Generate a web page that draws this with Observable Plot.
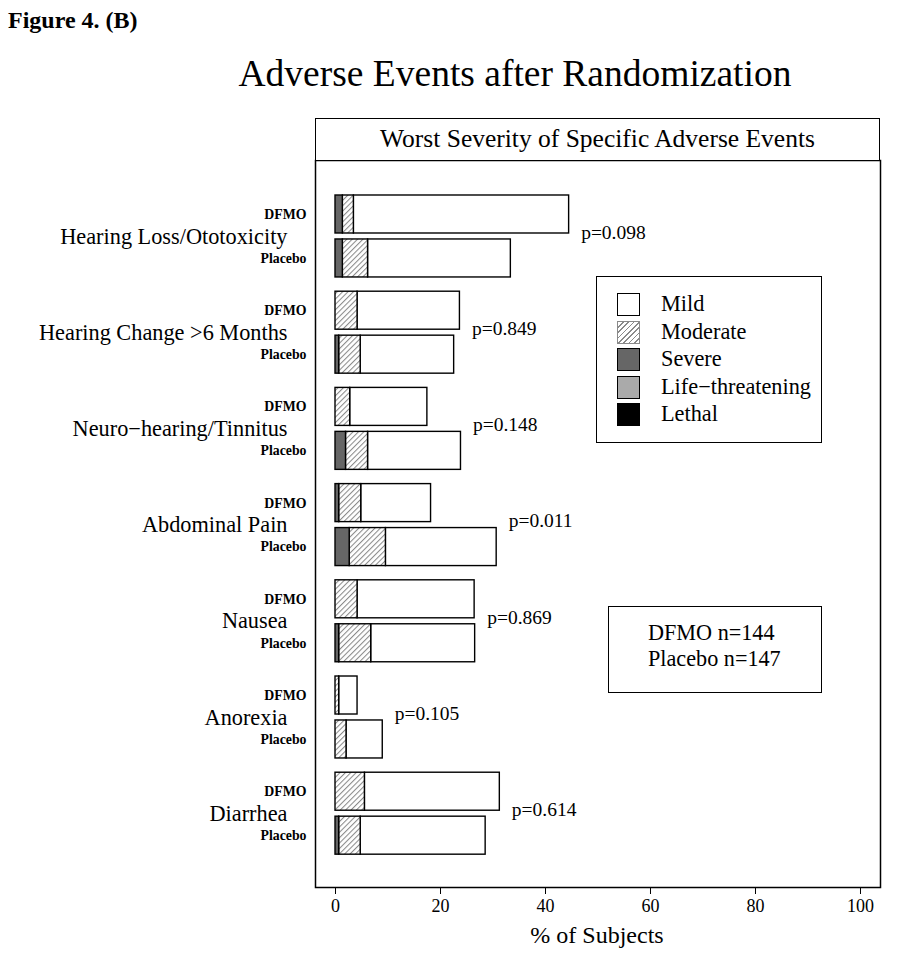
<!DOCTYPE html>
<html>
<head>
<meta charset="utf-8">
<script src="https://cdn.jsdelivr.net/npm/d3@7"></script>
<script src="https://cdn.jsdelivr.net/npm/@observablehq/plot@0.6"></script>
<style>
  body { margin:0; background:#fff; font-family:"Liberation Serif", serif; color:#000; }
  #page { position:relative; width:897px; height:956px; overflow:hidden; }
  .abs { position:absolute; }
  .sw { position:absolute; width:23px; height:23px; box-sizing:border-box; border:1.5px solid #000; }
</style>
</head>
<body>
<div id="page">
  <div class="abs" style="left:8px;top:5px;font-weight:bold;font-size:24px;line-height:30px;">Figure 4. (B)</div>
  <div class="abs" style="left:0;width:1030px;top:51px;text-align:center;font-size:37.5px;line-height:46px;">Adverse Events after Randomization</div>
  <div id="chart" class="abs" style="left:0;top:150px;"></div>
  <div class="abs" style="left:315px;top:118px;width:565px;height:43px;box-sizing:border-box;border:1.5px solid #000;text-align:center;font-size:25.5px;line-height:40px;background:#fff;">Worst Severity of Specific Adverse Events</div>
  <div id="legend" class="abs" style="left:596px;top:276px;width:226px;height:167px;box-sizing:border-box;border:1.5px solid #000;background:#fff;"></div>
  <div class="abs" style="left:608px;top:606px;width:214px;height:87px;box-sizing:border-box;border:1.5px solid #000;background:#fff;"></div>
  <div id="nbox" class="abs" style="left:648px;top:620px;font-size:22.2px;line-height:26px;"></div>
  <div class="abs" style="left:0;width:1194px;top:920px;text-align:center;font-size:24px;line-height:30px;">% of Subjects</div>
</div>
<script>
// ---- data ----
const events = ["Hearing Loss/Ototoxicity", "Hearing Change >6 Months", "Neuro\u2212hearing/Tinnitus", "Abdominal Pain", "Nausea", "Anorexia", "Diarrhea"];
const arms = ["DFMO", "Placebo"];
const dfmoSevere      = [1.4, 0.0, 0.0, 0.7, 0.0, 0.0, 0.0];
const dfmoModerate    = [2.1, 4.2, 2.8, 4.2, 4.2, 0.7, 5.6];
const dfmoMild        = [41.0, 19.5, 14.7, 13.3, 22.3, 3.5, 25.7];
const placeboSevere   = [1.4, 0.7, 2.0, 2.7, 0.7, 0.0, 0.7];
const placeboModerate = [4.8, 4.1, 4.2, 6.9, 6.1, 2.1, 4.1];
const placeboMild     = [27.2, 17.8, 17.7, 21.1, 19.8, 6.9, 23.8];
const pValues = ["0.098", "0.849", "0.148", "0.011", "0.869", "0.105", "0.614"];
const xTicks = [0, 20, 40, 60, 80, 100];
const severities = ["Mild", "Moderate", "Severe", "Life\u2212threatening", "Lethal"];
const nLabels = ["DFMO n=144", "Placebo n=147"];

// ---- styles / layout ----
const sevFill = {"Mild": "white", "Moderate": "url(#hatch)", "Severe": "#666666", "Life\u2212threatening": "#aaaaaa", "Lethal": "#000000"};
const OFF = 0.0738, STEP = 0.457, BAR = 0.395;

// ---- build tables ----
const segs = [], bars = [], groups = [];
events.forEach((ev, g) => {
  const partsByArm = [
    [["Severe", dfmoSevere[g]], ["Moderate", dfmoModerate[g]], ["Mild", dfmoMild[g]]],
    [["Severe", placeboSevere[g]], ["Moderate", placeboModerate[g]], ["Mild", placeboMild[g]]]
  ];
  let maxTotal = 0;
  arms.forEach((arm, a) => {
    const y1 = g + OFF + a * STEP, y2 = y1 + BAR;
    let x = 0;
    for (const [sev, v] of partsByArm[a]) {
      if (v > 0) segs.push({event: ev, arm, sev, x1: x, x2: x + v, y1, y2});
      x += v;
    }
    bars.push({event: ev, arm, total: x, y: (y1 + y2) / 2});
    maxTotal = Math.max(maxTotal, x);
  });
  groups.push({event: ev, y: g + 0.5, p: "p=" + pValues[g], x: maxTotal});
});

const rectFor = sev => Plot.rect(segs.filter(d => d.sev === sev), {
  x1: "x1", x2: "x2", y1: "y1", y2: "y2",
  fill: sevFill[sev], stroke: "black", strokeWidth: 1.4
});

const chart = Plot.plot({
  width: 897, height: 806,
  marginLeft: 315, marginRight: 17, marginTop: 10, marginBottom: 69,
  style: {fontFamily: "Liberation Serif", fontSize: "18px", background: "white", color: "black"},
  x: {domain: [-3.81, 103.81], ticks: xTicks, label: null},
  y: {domain: [-0.29, 7.267], reverse: true, axis: null},
  marks: [
    Plot.frame({stroke: "black", strokeWidth: 1.5}),
    Plot.axisX({ticks: xTicks, tickSize: 7, tickPadding: 5, fontSize: 18, label: null, tickFormat: d => String(d)}),
    rectFor("Mild"), rectFor("Moderate"), rectFor("Severe"),
    Plot.text(groups, {y: "y", text: "event", frameAnchor: "left", dx: -28, textAnchor: "end", fontSize: 22.3}),
    Plot.text(bars, {y: "y", text: "arm", frameAnchor: "left", dx: -9, textAnchor: "end", fontSize: 13.8, fontWeight: "bold"}),
    Plot.text(groups, {x: "x", y: "y", text: "p", dx: 12, dy: -4, textAnchor: "start", fontSize: 19.5})
  ]
});

d3.select(chart).insert("defs", ":first-child").html(
  '<pattern id="hatch" patternUnits="userSpaceOnUse" width="3.8" height="3.8" patternTransform="rotate(45)">' +
  '<rect width="3.8" height="3.8" fill="white"/>' +
  '<line x1="0.5" y1="0" x2="0.5" y2="3.8" stroke="#8a8a8a" stroke-width="1.1"/></pattern>'
);
document.getElementById("chart").appendChild(chart);

// legend
const leg = document.getElementById("legend");
severities.forEach((s, i) => {
  const top = 16 + i * 27.6;
  const sw = document.createElement("div");
  sw.className = "sw";
  sw.style.left = "20px"; sw.style.top = top + "px";
  if (s === "Moderate") {
    sw.style.background = "repeating-linear-gradient(-45deg, #fff 0px, #fff 2.6px, #8a8a8a 2.6px, #8a8a8a 3.8px)";
    sw.style.borderColor = "#8a8a8a";
  } else sw.style.background = sevFill[s];
  leg.appendChild(sw);
  const t = document.createElement("div");
  t.className = "abs";
  t.style.left = "64px"; t.style.top = (top - 3) + "px";
  t.style.fontSize = "22.3px"; t.style.lineHeight = "28px";
  t.textContent = s;
  leg.appendChild(t);
});
document.getElementById("nbox").innerHTML = nLabels.join("<br>");
</script>
</body>
</html>
